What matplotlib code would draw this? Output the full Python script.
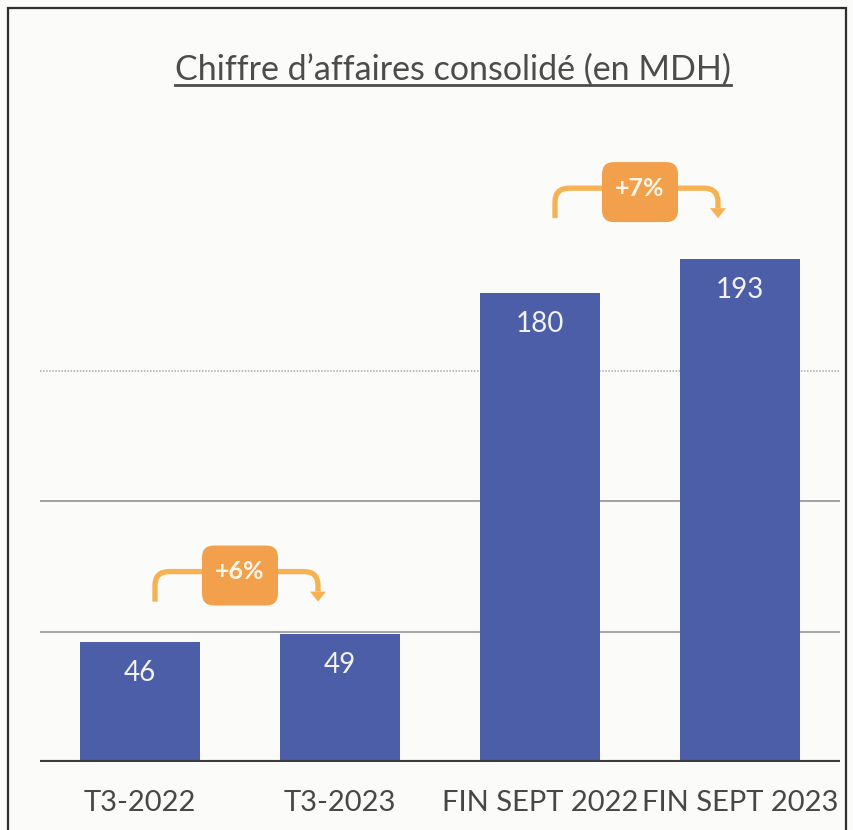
import numpy as np
import matplotlib.pyplot as plt
from matplotlib.patches import FancyBboxPatch, Rectangle, Polygon
from matplotlib.path import Path
from matplotlib.patches import PathPatch

# ---------------------------------------------------------
# data
# ---------------------------------------------------------
categories = ["T3-2022", "T3-2023", "FIN SEPT 2022", "FIN SEPT 2023"]
values = [46, 49, 180, 193]

# growth annotations: (left bar index, label)
growth_pairs = [0, 2]
growth_labels = ["+6%", "+7%"]
growth_levels = [73, 220]   # height of the bracket line, in MDH

grid_levels = [50, 100, 150]

title = "Chiffre d\u2019affaires consolidé (en MDH)"

# ---------------------------------------------------------
# style
# ---------------------------------------------------------
plt.rcParams['font.family'] = ['Lato', 'DejaVu Sans']
bar_color = '#4b5ea7'
text_grey = '#474747'
box_orange = '#f3a04c'
line_orange = '#f6b152'

W, H = 854, 830
fig = plt.figure(figsize=(W / 100, H / 100), dpi=100)
fig.patch.set_facecolor('#fbfbfa')

ax_left, ax_right, ax_bottom, ax_top = 40, 840, 762, 136
ax = fig.add_axes([ax_left / W, 1 - ax_bottom / H,
                   (ax_right - ax_left) / W, (ax_bottom - ax_top) / H])
ax.set_facecolor('none')
ax.set_xlim(-0.5, 3.5)
ax.set_ylim(0, 240)

# pixels per data unit (for keeping rounded corners round)
px_x = (ax_right - ax_left) / 4.0
px_y = (ax_bottom - ax_top) / 240.0

# gridlines
for g in grid_levels:
    if g == 150:
        ax.axhline(g, color='#a8a8a8', lw=1.1, ls=(0, (1, 1)), zorder=1)
    else:
        ax.axhline(g, color='#8a8a8a', lw=1.1, zorder=1)
ax.axhline(0, color='#3a3a3a', lw=3, zorder=4)

x = np.arange(len(categories))
bars = ax.bar(x, values, width=0.6, color=bar_color, zorder=3)

for xi, v in zip(x, values):
    ax.text(xi, v - 31 / px_y, str(v), ha='center', va='center',
            color='#f2f2f2', fontsize=20, zorder=5)

ax.set_xticks(x)
ax.set_xticklabels(categories, fontsize=21, color=text_grey)
ax.tick_params(axis='x', length=0, pad=20)
ax.set_yticks([])
for s in ax.spines.values():
    s.set_visible(False)

# ---------------------------------------------------------
# growth brackets
# ---------------------------------------------------------
rx, ry = 14 / px_x, 14 / px_y
drop = 30 / px_y
head_w, head_h = 8 / px_x, 10 / px_y
for i, lab, y0 in zip(growth_pairs, growth_labels, growth_levels):
    xl = i + 0.075
    xr = i + 0.89
    verts = [(xl, y0 - drop), (xl, y0 - ry), (xl, y0), (xl + rx, y0),
             (xr - rx, y0), (xr, y0), (xr, y0 - ry), (xr, y0 - drop + head_h)]
    codes = [Path.MOVETO, Path.LINETO, Path.CURVE3, Path.CURVE3,
             Path.LINETO, Path.CURVE3, Path.CURVE3, Path.LINETO]
    ax.add_patch(PathPatch(Path(verts, codes), fill=False, ec=line_orange,
                           lw=3.8, capstyle='butt', zorder=6))
    ax.add_patch(Polygon([(xr - head_w, y0 - drop + head_h),
                          (xr + head_w, y0 - drop + head_h),
                          (xr, y0 - drop)], closed=True,
                         fc=line_orange, ec='none', zorder=6))

    bw, bh = 76 / px_x, 60 / px_y
    cx, cy = i + 0.5, y0 - 1.5
    rs = 12 / px_x
    box = FancyBboxPatch((cx - bw / 2, cy - bh / 2), bw, bh,
                         boxstyle=f"round,pad=0,rounding_size={rs}",
                         mutation_aspect=px_x / px_y,
                         fc=box_orange, ec='none', zorder=7)
    ax.add_patch(box)
    ax.text(cx, cy + 4 / px_y, lab, ha='center', va='center', color='#fdf6e8',
            fontsize=18, fontweight='bold', zorder=8)

# ---------------------------------------------------------
# title (underlined) and frame
# ---------------------------------------------------------
t = fig.text(453 / W, 1 - 70 / H, title, ha='center', va='center',
             fontsize=24.5, color='#4c4c4c')
fig.canvas.draw()
bb = t.get_window_extent().transformed(fig.transFigure.inverted())
uy = bb.y0 + 0.001
fig.add_artist(plt.Line2D([bb.x0, bb.x1], [uy, uy], color='#4c4c4c', lw=2))

fig.add_artist(Rectangle((8 / W, -0.01), (846 - 8) / W, 1 - 8 / H + 0.01,
                         transform=fig.transFigure, fill=False,
                         ec='#2e2e2e', lw=1.6))

fig.savefig('out.png', dpi=100, facecolor=fig.get_facecolor())
